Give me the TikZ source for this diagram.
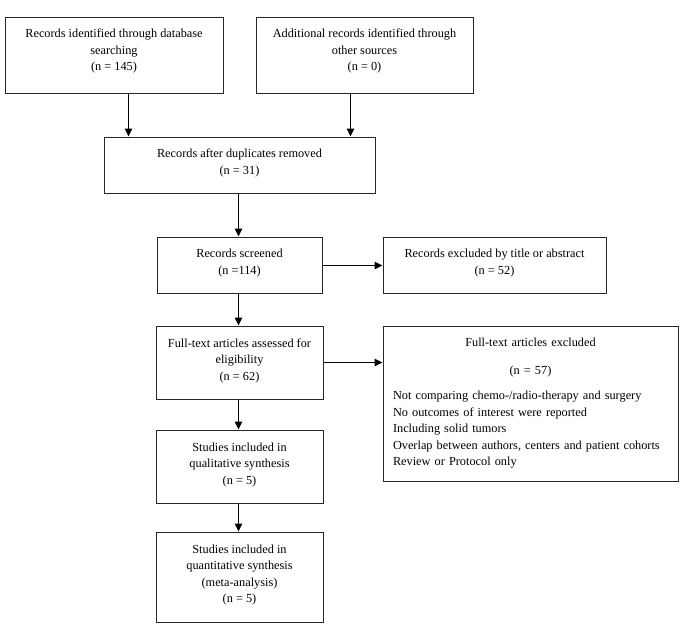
\documentclass[tikz,border=0pt]{standalone}
\usepackage{fontspec}
\setmainfont{Liberation Serif}
\usetikzlibrary{arrows.meta}
\begin{document}
\begin{tikzpicture}[x=1pt,y=1pt,
  boxbase/.style={draw=black!85, line width=1pt, inner sep=0pt,
    font=\fontsize{12.3}{16.5}\selectfont},
  box/.style={boxbase, align=center, text depth=6.5pt},
  arr/.style={black, line width=1.6pt, -{Triangle[length=8pt,width=7.5pt]}}]
\useasboundingbox (0,0) rectangle (685,-632);
\node[box, minimum width=218, minimum height=76, text depth=10pt] (b1) at (114,-55)
  {Records identified through database\\searching\\(n = 145)};
\node[box, minimum width=217, minimum height=76, text depth=10pt] (b2) at (364.5,-55)
  {Additional records identified through\\other sources\\(n = 0)};
\node[box, minimum width=271, minimum height=56] (b3) at (239.5,-165)
  {Records after duplicates removed\\(n = 31)};
\node[box, minimum width=165, minimum height=56] (b4) at (239.5,-265)
  {Records screened\\(n =114)};
\node[box, minimum width=223, minimum height=56] (b5) at (494.5,-265)
  {Records excluded by title or abstract\\(n = 52)};
\node[box, minimum width=167, minimum height=73] (b6) at (239.5,-362.5)
  {Full-text articles assessed for\\eligibility\\(n = 62)};
\node[boxbase, minimum width=295, minimum height=155, align=left, text width=275pt] (b7) at (530.5,-403.5)
  {\makebox[275pt]{Full-text articles excluded}\\[11.5pt]
   \makebox[275pt]{(n = 57)}\\[8.5pt]
   Not comparing chemo-/radio-therapy and surgery\\
   No outcomes of interest were reported\\
   Including solid tumors\\
   Overlap between authors, centers and patient cohorts\\
   Review or Protocol only};
\node[box, minimum width=167, minimum height=73] (b8) at (239.5,-466.5)
  {Studies included in\\qualitative synthesis\\(n = 5)};
\node[box, minimum width=167, minimum height=90] (b9) at (239.5,-577)
  {Studies included in\\quantitative synthesis\\(meta-analysis)\\(n = 5)};
\draw[arr] ([xshift=14.5pt]b1.south) -- ([xshift=14.5pt]b1.south |- b3.north);
\draw[arr] ([xshift=-14pt]b2.south) -- ([xshift=-14pt]b2.south |- b3.north);
\draw[arr] ([xshift=-1pt]b3.south) -- ([xshift=-1pt]b4.north);
\draw[arr] ([yshift=-0.5pt]b4.east) -- ([yshift=-0.5pt]b5.west);
\draw[arr] (b6.east) -- (b6.east -| b7.west);
\draw[arr] ([xshift=-1pt]b4.south) -- ([xshift=-1pt]b6.north);
\draw[arr] ([xshift=-1pt]b6.south) -- ([xshift=-1pt]b8.north);
\draw[arr] ([xshift=-1pt]b8.south) -- ([xshift=-1pt]b9.north);
\end{tikzpicture}
\end{document}
